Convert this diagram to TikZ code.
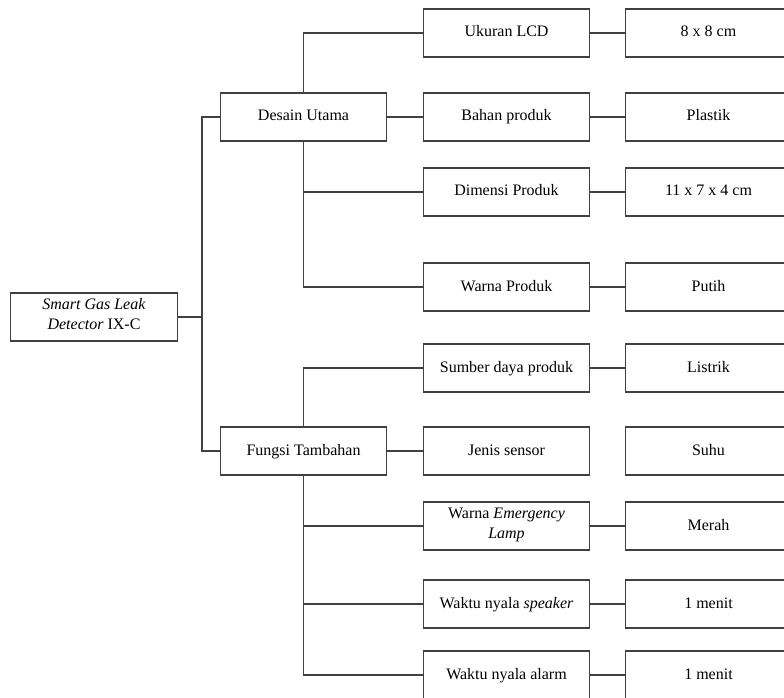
\documentclass[tikz,border=0pt]{standalone}
\usepackage{fontspec}
\setmainfont{Liberation Serif}
\usepackage{tikz}

\begin{document}
\begin{tikzpicture}[x=0.75pt,y=0.75pt,
  box/.style={draw=black!75,line width=0.9pt,fill=white,minimum width=125pt,minimum height=36pt,
    align=center,inner sep=2pt,font=\fontsize{12}{15}\selectfont,
    execute at begin node=\strut,execute at end node=\strut},
  link/.style={draw=black!75,line width=0.9pt}]
\useasboundingbox (0,0) rectangle (784,697);
\clip (0,0) rectangle (784,697);
% akar dan cabang utama
\node[box] (R) at (94,380) {\textit{Smart Gas Leak}\\\textit{Detector} IX-C};
\node[box] (D) at (303.5,580) {Desain Utama};
\node[box] (F) at (303.5,246) {Fungsi Tambahan};
% rincian desain utama
\node[box] (D1) at (506.5,664) {Ukuran LCD};      \node[box] (V1) at (708.5,664) {8 x 8 cm};
\node[box] (D2) at (506.5,580) {Bahan produk};    \node[box] (V2) at (708.5,580) {Plastik};
\node[box] (D3) at (506.5,505) {Dimensi Produk};  \node[box] (V3) at (708.5,505) {11 x 7 x 4 cm};
\node[box] (D4) at (506.5,410) {Warna Produk};    \node[box] (V4) at (708.5,410) {Putih};
% rincian fungsi tambahan
\node[box] (F1) at (506.5,329) {Sumber daya produk}; \node[box] (W1) at (708.5,329) {Listrik};
\node[box] (F2) at (506.5,246) {Jenis sensor};       \node[box] (W2) at (708.5,246) {Suhu};
\node[box] (F3) at (506.5,171) {Warna \textit{Emergency}\\\textit{Lamp}}; \node[box] (W3) at (708.5,171) {Merah};
\node[box] (F4) at (506.5,93) {Waktu nyala \textit{speaker}}; \node[box] (W4) at (708.5,93) {1 menit};
\node[box] (F5) at (506.5,22) {Waktu nyala alarm};  \node[box] (W5) at (708.5,22) {1 menit};
% garis penghubung
\draw[link] (R.east) -- ++(24,0) |- (D.west);
\draw[link] (R.east) -- ++(24,0) |- (F.west);
\draw[link] (D.north) |- (D1.west); \draw[link] (D) -- (D2);
\draw[link] (D.south) |- (D3.west); \draw[link] (D.south) |- (D4.west);
\draw[link] (F.north) |- (F1.west); \draw[link] (F) -- (F2);
\draw[link] (F.south) |- (F3.west); \draw[link] (F.south) |- (F4.west); \draw[link] (F.south) |- (F5.west);
\draw[link] (D1) -- (V1); \draw[link] (D2) -- (V2); \draw[link] (D3) -- (V3); \draw[link] (D4) -- (V4);
\draw[link] (F1) -- (W1); \draw[link] (F3) -- (W3); \draw[link] (F4) -- (W4); \draw[link] (F5) -- (W5);
\end{tikzpicture}
\end{document}
